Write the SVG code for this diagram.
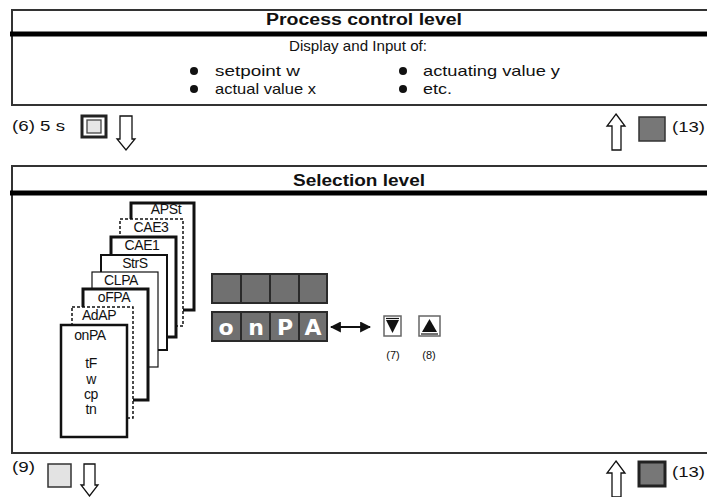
<svg xmlns="http://www.w3.org/2000/svg" width="707" height="497" viewBox="0 0 707 497">
<defs>
<style>
text{font-family:"Liberation Sans",Arial,sans-serif;fill:#111}
.title{font-size:16px;font-weight:bold;text-anchor:middle}
.body{font-size:15px}
.small{font-size:15px}
.lab{font-size:14px;text-anchor:middle;letter-spacing:-0.4px}
.tiny{font-size:11px;text-anchor:middle}
.frame{stroke:#333;stroke-width:2;fill:none}
.thick{stroke:#000;stroke-width:5;fill:none}
.hollow{fill:#fff;stroke:#111;stroke-width:1.3}
.cell{fill:#707070;stroke:#2a2a2a;stroke-width:2}
.seg{font-family:"DejaVu Sans",sans-serif;font-weight:bold;font-size:22px;fill:#fff;text-anchor:middle}
.card{fill:#fff;stroke:#111}
</style>
<marker id="ah" viewBox="0 0 10 10" refX="9" refY="5" markerWidth="5" markerHeight="5" orient="auto-start-reverse"><path d="M0,0L10,5L0,10z" fill="#111"/></marker>
</defs>

<g id="process-level">
<line class="frame" x1="12" y1="10" x2="707" y2="10"/>
<line class="frame" x1="12" y1="9" x2="12" y2="106"/>
<line class="thick" x1="10" y1="34" x2="707" y2="34"/>
<line class="frame" x1="11" y1="105" x2="707" y2="105"/>
<text class="title" x="364" y="25" textLength="196" lengthAdjust="spacingAndGlyphs">Process control level</text>
<text class="body" x="358" y="51" text-anchor="middle" textLength="138" lengthAdjust="spacingAndGlyphs">Display and Input of:</text>
<circle cx="194" cy="71" r="4" fill="#111"/>
<text class="body" x="215" y="76" textLength="85" lengthAdjust="spacingAndGlyphs">setpoint w</text>
<circle cx="194" cy="89" r="4" fill="#111"/>
<text class="body" x="215" y="94" textLength="101" lengthAdjust="spacingAndGlyphs">actual value x</text>
<circle cx="403" cy="71" r="4" fill="#111"/>
<text class="body" x="423" y="76" textLength="137" lengthAdjust="spacingAndGlyphs">actuating value y</text>
<circle cx="403" cy="89" r="4" fill="#111"/>
<text class="body" x="423" y="94" textLength="29" lengthAdjust="spacingAndGlyphs">etc.</text>
</g>

<g id="row-6">
<text class="small" x="12" y="131" textLength="53" lengthAdjust="spacingAndGlyphs">(6) 5 s</text>
<rect x="82" y="116" width="24" height="21" fill="#fff" stroke="#222" stroke-width="3"/>
<rect x="87" y="120" width="14" height="13" fill="#e6e6e6" stroke="#444" stroke-width="1.3"/>
</g>

<g id="row-13-top">
<rect x="639" y="117" width="26" height="24" fill="#777" stroke="#333" stroke-width="1.5"/>
<text class="small" x="672" y="132" textLength="33" lengthAdjust="spacingAndGlyphs">(13)</text>
</g>

<g id="selection-level">
<line class="frame" x1="12" y1="166" x2="707" y2="166"/>
<line class="frame" x1="12" y1="165" x2="12" y2="454"/>
<line class="thick" x1="10" y1="193" x2="707" y2="193" stroke-width="6"/>
<line class="frame" x1="11" y1="453" x2="707" y2="453"/>
<text class="title" x="359" y="186" textLength="132" lengthAdjust="spacingAndGlyphs">Selection level</text>
</g>

<g id="card-APSt">
<rect class="card" x="131" y="203" width="63" height="107" stroke-width="3"/>
<text class="lab" x="166" y="214">APSt</text>
</g>
<g id="card-CAE3">
<rect class="card" x="120" y="219" width="63" height="107" stroke-width="1.5" stroke-dasharray="3,2"/>
<text class="lab" x="151" y="232">CAE3</text>
</g>
<g id="card-CAE1">
<rect class="card" x="111" y="237" width="65" height="100" stroke-width="3"/>
<text class="lab" x="142" y="250">CAE1</text>
</g>
<g id="card-StrS">
<rect class="card" x="101" y="255" width="66" height="95" stroke-width="2"/>
<text class="lab" x="135" y="268">StrS</text>
</g>
<g id="card-CLPA">
<rect class="card" x="92" y="272" width="66" height="95" stroke-width="1.2"/>
<text class="lab" x="121" y="285">CLPA</text>
</g>
<g id="card-oFPA">
<rect class="card" x="83" y="289" width="65" height="111" stroke-width="3"/>
<text class="lab" x="114" y="302">oFPA</text>
</g>
<g id="card-AdAP">
<rect class="card" x="72" y="307" width="61" height="111" stroke-width="1.5" stroke-dasharray="3,2"/>
<text class="lab" x="99" y="320">AdAP</text>
</g>
<g id="card-onPA">
<rect class="card" x="61" y="325" width="66" height="112" stroke-width="2.5"/>
<text class="lab" x="90" y="340">onPA</text>
<text class="lab" x="91" y="368">tF</text>
<text class="lab" x="91" y="384">w</text>
<text class="lab" x="91" y="399">cp</text>
<text class="lab" x="91" y="414">tn</text>
</g>

<g id="display">
<rect class="cell" x="212" y="274" width="29" height="29"/>
<rect class="cell" x="241" y="274" width="29" height="29"/>
<rect class="cell" x="270" y="274" width="29" height="29"/>
<rect class="cell" x="299" y="274" width="28" height="29"/>
<rect class="cell" x="212" y="312" width="29" height="29"/>
<rect class="cell" x="241" y="312" width="29" height="29"/>
<rect class="cell" x="270" y="312" width="29" height="29"/>
<rect class="cell" x="299" y="312" width="28" height="29"/>
<text class="seg" x="226" y="335">o</text>
<text class="seg" x="256" y="335">n</text>
<text class="seg" x="285" y="335">P</text>
<text class="seg" x="313" y="335">A</text>
</g>

<g id="key-down">
<rect x="384" y="316" width="17" height="20" fill="#fff" stroke="#666" stroke-width="1.5"/>
<line x1="386" y1="318.5" x2="399" y2="318.5" stroke="#111" stroke-width="1.2"/>
<polygon points="386,320 399,320 392.5,333" fill="#111"/>
<text class="tiny" x="393" y="359">(7)</text>
</g>
<g id="key-up">
<rect x="419" y="316" width="21" height="20" fill="#fff" stroke="#666" stroke-width="1.5"/>
<polygon points="429.5,319 437,332 422,332" fill="#111"/>
<line x1="421" y1="334" x2="438" y2="334" stroke="#111" stroke-width="1.2"/>
<text class="tiny" x="429" y="359">(8)</text>
</g>

<g id="row-9">
<text class="small" x="12" y="472" textLength="23" lengthAdjust="spacingAndGlyphs">(9)</text>
<rect x="48" y="464" width="23" height="23" fill="#e3e3e3" stroke="#333" stroke-width="1.5"/>
</g>

<g id="row-13-bottom">
<rect x="639" y="462" width="26" height="24" fill="#777" stroke="#222" stroke-width="3"/>
<text class="small" x="672" y="477" textLength="33" lengthAdjust="spacingAndGlyphs">(13)</text>
</g>

<g id="connectors">
<polygon class="hollow" points="120,116 132,116 132,139 135,139 126,150 117,139 120,139"/>
<polygon class="hollow" points="616,114 625,126 621,126 621,150 612,150 612,126 607,126"/>
<line x1="331" y1="327" x2="370" y2="327" stroke="#111" stroke-width="2.2" marker-start="url(#ah)" marker-end="url(#ah)"/>
<polygon class="hollow" points="84,464 95,464 95,485 98,485 89.5,496 81,485 84,485"/>
<polygon class="hollow" points="616,461 625,473 621,473 621,497 612,497 612,473 607,473"/>
</g>
</svg>
